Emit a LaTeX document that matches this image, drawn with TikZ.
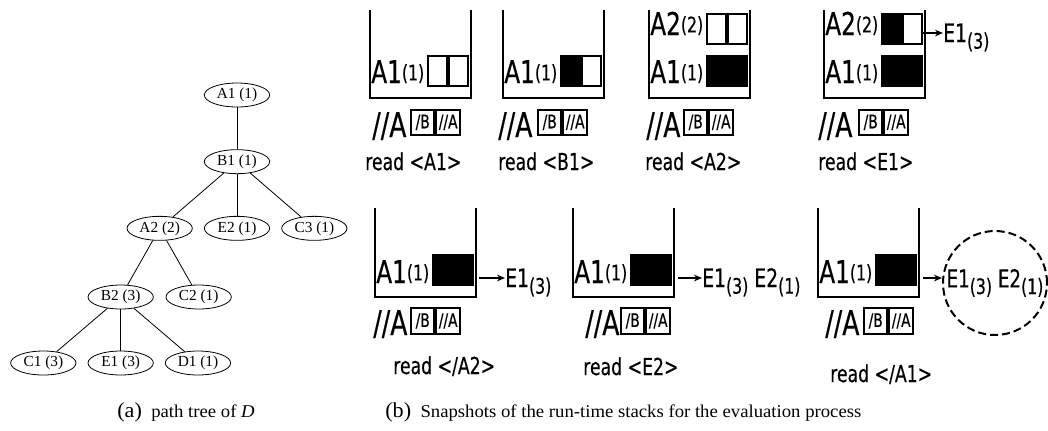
\documentclass[tikz,border=0pt]{standalone}
\usepackage{fontspec}
\setmainfont{Liberation Serif}
\newfontfamily\stk[FakeStretch=0.74, FakeBold=0.4]{DejaVu Sans}
\newfontfamily\capf[FakeStretch=1.04]{Liberation Serif}
\usetikzlibrary{shapes.geometric, arrows.meta, positioning}

\newcommand{\sublo}[1]{\raisebox{-5pt}{\fontsize{16}{16}\selectfont(#1)}}
\newcommand{\suphi}[1]{\raisebox{2pt}{\fontsize{16}{16}\selectfont(#1)}}

\begin{document}
\begin{tikzpicture}[
  x=0.75pt, y=-0.75pt,
  level 1/.style={level distance=50pt},
  level 2/.style={sibling distance=58pt, level distance=50pt},
  level 3/.style={sibling distance=58.5pt, level distance=51.5pt},
  level 4/.style={sibling distance=58pt, level distance=49.5pt},
  tnode/.style={ellipse, draw, line width=0.6pt, minimum width=49pt,
    minimum height=18pt, inner sep=0pt, font=\fontsize{11.5}{11.5}\selectfont},
  every child node/.style={tnode},
  edge from parent/.style={draw, line width=0.6pt},
  cup/.style={line width=1.5pt},
  ent/.style={anchor=base west, inner sep=0pt, font=\stk\fontsize{23.5}{24}\selectfont},
  cell/.style={draw, line width=1.5pt, minimum width=14.25pt,
    minimum height=22.5pt, inner sep=0pt, anchor=north west},
  fcell/.style={cell, fill=black},
  qry/.style={anchor=base west, inner sep=0pt, font=\stk\fontsize{25.5}{26}\selectfont},
  qcell/.style={draw, line width=1.5pt, minimum width=17.6pt, minimum height=18.5pt,
    inner sep=0pt, anchor=north west, font=\stk\fontsize{14}{14}\selectfont},
  rd/.style={anchor=base west, inner sep=0pt, font=\stk\fontsize{17.5}{18}\selectfont},
  res/.style={anchor=base west, inner sep=0pt, font=\stk\fontsize{19}{19}\selectfont},
  ptr/.style={-{Stealth[length=6pt, width=5pt]}, line width=1.1pt}
]
\useasboundingbox (0,0) rectangle (1048,430);

% path tree
\node[tnode] (a1) at (237,95) {A1 (1)}
  child { node (b1) {B1 (1)}
    child { node (a2) {A2 (2)}
      child { node (b2) {B2 (3)}
        child { node (c1) {C1 (3)} }
        child { node (e1) {E1 (3)} }
        child { node (d1) {D1 (1)} }
      }
      child { node (c2) {C2 (1)} }
    }
    child { node (e2) {E2 (1)} }
    child { node (c3) {C3 (1)} }
  };

% read <A1>
\draw[cup] (370,10) -- (370,98) -- (471,98) -- (471,10);
\node[ent] (s1t) at (371,83) {A1\suphi{1}};
\node[cell] (s1c1) at (427,55) {};
\node[cell, right=0pt of s1c1] (s1c2) {};
\node[qry] (s1q) at (372,137) {//A};
\node[qcell] (s1b) at (410,109) {/B};
\node[qcell, right=0pt of s1b] (s1a) {//A};
\node[rd] (s1r) at (365,170) {read <A1>};

% read <B1>
\draw[cup] (503,10) -- (503,98) -- (604,98) -- (604,10);
\node[ent] (s2t) at (504,83) {A1\suphi{1}};
\node[fcell] (s2c1) at (560,55) {};
\node[cell, right=0pt of s2c1] (s2c2) {};
\node[qry] (s2q) at (498,137) {//A};
\node[qcell] (s2b) at (537,109) {/B};
\node[qcell, right=0pt of s2b] (s2a) {//A};
\node[rd] (s2r) at (498,170) {read <B1>};

% read <A2>
\draw[cup] (649,10) -- (649,98) -- (750,98) -- (750,10);
\node[ent] (s3u) at (650,35) {A2\suphi{2}};
\node[cell] (s3u1) at (706,13) {};
\node[cell, right=0pt of s3u1] (s3u2) {};
\node[ent] (s3t) at (650,83) {A1\suphi{1}};
\node[fcell] (s3c1) at (706,55) {};
\node[fcell, right=0pt of s3c1] (s3c2) {};
\node[qry] (s3q) at (646,137) {//A};
\node[qcell] (s3b) at (683,109) {/B};
\node[qcell, right=0pt of s3b] (s3a) {//A};
\node[rd] (s3r) at (645,170) {read <A2>};

% read <E1>
\draw[cup] (824,10) -- (824,98) -- (925,98) -- (925,10);
\node[ent] (s4u) at (825,35) {A2\suphi{2}};
\node[fcell] (s4u1) at (881,13) {};
\node[cell, right=0pt of s4u1] (s4u2) {};
\node[ent] (s4t) at (825,83) {A1\suphi{1}};
\node[fcell] (s4c1) at (881,55) {};
\node[fcell, right=0pt of s4c1] (s4c2) {};
\coordinate (s4o) at (921,33);
\node[res] (s4e) at (943,42) {E1\sublo{3}};
\draw[ptr] (s4o) -- (s4o -| s4e.west);
\node[qry] (s4q) at (818,137) {//A};
\node[qcell] (s4b) at (858,109) {/B};
\node[qcell, right=0pt of s4b] (s4a) {//A};
\node[rd] (s4r) at (818,170) {read <E1>};

% read </A2>
\draw[cup] (375,208) -- (375,297) -- (476,297) -- (476,208);
\node[ent] (s5t) at (376,283) {A1\suphi{1}};
\node[fcell] (s5c1) at (432,254) {};
\node[fcell, right=0pt of s5c1] (s5c2) {};
\coordinate (s5o) at (479,278);
\node[res] (s5e) at (505,287) {E1\sublo{3}};
\draw[ptr] (s5o) -- (s5o -| s5e.west);
\node[qry] (s5q) at (373,335) {//A};
\node[qcell, minimum height=19.5pt] (s5b) at (410,307) {/B};
\node[qcell, minimum height=19.5pt, right=0pt of s5b] (s5a) {//A};
\node[rd] (s5r) at (393,374) {read </A2>};

% read <E2>
\draw[cup] (573,208) -- (573,297) -- (674,297) -- (674,208);
\node[ent] (s6t) at (574,283) {A1\suphi{1}};
\node[fcell] (s6c1) at (630,254) {};
\node[fcell, right=0pt of s6c1] (s6c2) {};
\coordinate (s6o) at (678,278);
\node[res] (s6e) at (702,287) {E1\sublo{3} E2\sublo{1}};
\draw[ptr] (s6o) -- (s6o -| s6e.west);
\node[qry] (s6q) at (585,335) {//A};
\node[qcell, minimum height=19.5pt] (s6b) at (620,307) {/B};
\node[qcell, minimum height=19.5pt, right=0pt of s6b] (s6a) {//A};
\node[rd] (s6r) at (583,375) {read <E2>};

% read </A1>
\draw[cup] (818,208) -- (818,297) -- (919,297) -- (919,208);
\node[ent] (s7t) at (819,283) {A1\suphi{1}};
\node[fcell] (s7c1) at (875,254) {};
\node[fcell, right=0pt of s7c1] (s7c2) {};
\coordinate (s7o) at (923,278);
\node[circle, draw, dash pattern=on 6pt off 3pt, line width=1.5pt, minimum size=78pt,
  inner sep=0pt, font=\stk\fontsize{18.5}{18}\selectfont] (s7e) at (995,283)
  {E1\sublo{3} E2\sublo{1}};
\draw[ptr] (s7o) -- (s7o -| s7e.west);
\node[qry] (s7q) at (825,335) {//A};
\node[qcell, minimum height=19.5pt] (s7b) at (863,307) {/B};
\node[qcell, minimum height=19.5pt, right=0pt of s7b] (s7a) {//A};
\node[rd] (s7r) at (830,382) {read </A1>};

% captions
\node[anchor=base west, inner sep=0pt, font=\capf\fontsize{13.5}{14}\selectfont] (capa) at (117,417)
  {{\fontsize{16}{16}\selectfont(a)}\ \ path tree of \textit{D}};
\node[anchor=base west, inner sep=0pt, font=\capf\fontsize{13.5}{14}\selectfont] (capb) at (385,417)
  {{\fontsize{16}{16}\selectfont(b)}\ \ Snapshots of the run-time stacks for the evaluation process};
\end{tikzpicture}
\end{document}
